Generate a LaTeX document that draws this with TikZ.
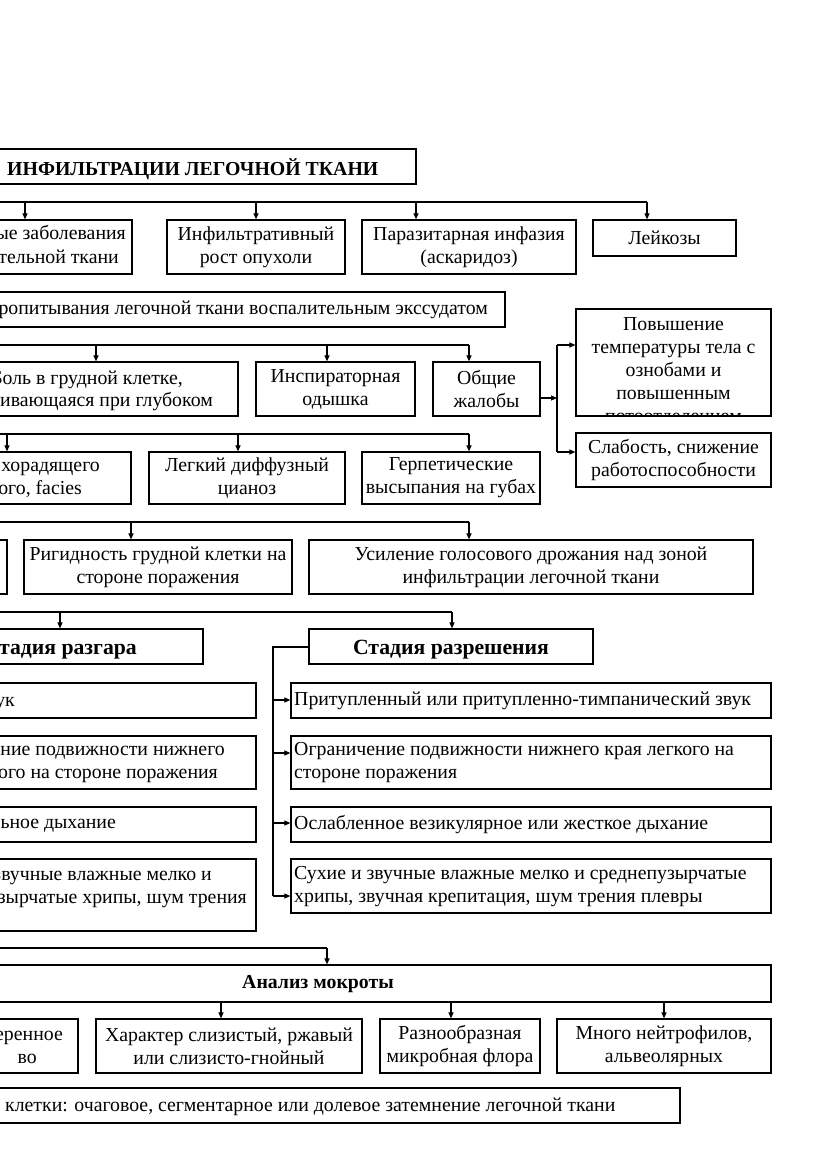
\documentclass[tikz,border=0pt]{standalone}
\usepackage{fontspec}
\setmainfont{Liberation Serif}
\usetikzlibrary{arrows.meta}
\newcommand\fs{\fontsize{19.8}{23}\selectfont}
\newcommand\fsb{\fontsize{21.7}{25}\selectfont\bfseries}
\newcommand\bx[6]{%
  \pgfmathsetmacro\bxw{#4-(#2)}%
  \pgfmathsetmacro\bxh{#5-(#3)}%
  \pgfmathsetmacro\bxx{(#2+#4)/2}%
  \pgfmathsetmacro\bxy{(#3+#5)/2}%
  \node[box, minimum width=\bxw pt, minimum height=\bxh pt] (#1) at (\bxx,\bxy) {#6};}
\begin{document}
\begin{tikzpicture}[x=1pt,y=-1pt,
  box/.style={draw, line width=1.2pt, inner sep=0pt, align=center, font=\fs},
  arr/.style={-{Triangle[length=6pt,width=5pt]}, line width=1.1pt},
  ln/.style={line width=1.1pt},
  txt/.style={inner sep=0pt, font=\fs},
  btxt/.style={inner sep=0pt, font=\fs\bfseries},
  ]
\useasboundingbox (0,0) rectangle (831,1174);
\fill[white] (0,0) rectangle (831,1174);
\clip (0,0) rectangle (831,1174);

% ---------- title ----------
\bx{title}{-60}{149}{416}{184}{}
\node[btxt, anchor=base west] (titletxt) at (7,176) {ИНФИЛЬТРАЦИИ ЛЕГОЧНОЙ ТКАНИ};

% ---------- row 1 ----------
\bx{r1a}{-60}{220}{132}{274}{}
\node[txt, anchor=base east] (r1at1) at (126,240) {ые заболевания};
\node[txt, anchor=base east] (r1at2) at (119,263) {тельной ткани};
\bx{r1b}{167}{220}{345}{274}{Инфильтративный\\рост опухоли}
\bx{r1c}{362}{220}{576}{274}{Паразитарная инфазия\\(аскаридоз)}
\bx{r1d}{593}{220}{736}{256}{Лейкозы}
\coordinate (b1l) at (-5,202);
\coordinate (b1a) at (25,202);
\coordinate (b1b) at (256,202);
\coordinate (b1c) at (416,202);
\coordinate (b1d) at (647,202);
\draw[ln] (b1l) -- (b1d);
\draw[arr] (b1a) -- (b1a |- r1a.north);
\draw[arr] (b1b) -- (b1b |- r1b.north);
\draw[arr] (b1c) -- (b1c |- r1c.north);
\draw[arr] (b1d) -- (b1d |- r1d.north);

% ---------- row 2 ----------
\bx{r2}{-60}{292}{505}{327}{}
\node[txt, anchor=base east] (r2t) at (488,314) {ропитывания легочной ткани воспалительным экссудатом};

% ---------- row 3 ----------
\bx{r3a}{-60}{362}{238}{416}{}
\node[txt, anchor=base east] (r3at1) at (183,384) {Боль в грудной клетке,};
\node[txt, anchor=base east] (r3at2) at (213,406) {ивающаяся при глубоком};
\bx{r3b}{256}{362}{415}{416}{Инспираторная\\одышка}
\bx{r3c}{433}{362}{540}{416}{Общие\\жалобы}
\bx{r3d}{576}{309}{771}{416}{}
\begin{scope}
  \clip (576,309) rectangle (771,416);
  \node[txt, anchor=base, align=center] (r3dt) at (673.5,422) {Повышение\\температуры тела с\\ознобами и\\повышенным\\потоотделением};
\end{scope}
\bx{r3e}{576}{433}{771}{487}{Слабость, снижение\\работоспособности}
\coordinate (b2l) at (-5,345);
\coordinate (b2a) at (96,345);
\coordinate (b2b) at (327,345);
\coordinate (b2c) at (469,345);
\draw[ln] (b2l) -- (b2c);
\draw[arr] (b2a) -- (b2a |- r3a.north);
\draw[arr] (b2b) -- (b2b |- r3b.north);
\draw[arr] (b2c) -- (b2c |- r3c.north);
\coordinate (vj) at (557,398);
\coordinate (vt) at (557,345);
\coordinate (vb) at (557,452);
\draw[arr] (r3c.east |- vj) -- (vj);
\draw[ln] (vt) -- (vb);
\draw[arr] (vt) -- (vt -| r3d.west);
\draw[arr] (vb) -- (vb -| r3e.west);

% ---------- row 4 ----------
\bx{r4a}{-60}{452}{131}{504}{}
\node[txt, anchor=base east] (r4at1) at (100,471) {хорадящего};
\node[txt, anchor=base east] (r4at2) at (82,494) {ого, facies};
\bx{r4b}{149}{452}{345}{504}{Легкий диффузный\\цианоз}
\bx{r4c}{362}{452}{540}{504}{Герпетические\\высыпания на губах}
\coordinate (b3l) at (-5,434);
\coordinate (b3a) at (7,434);
\coordinate (b3b) at (238,434);
\coordinate (b3c) at (469,434);
\draw[ln] (b3l) -- (b3c);
\draw[arr] (b3a) -- (b3a |- r4a.north);
\draw[arr] (b3b) -- (b3b |- r4b.north);
\draw[arr] (b3c) -- (b3c |- r4c.north);

% ---------- row 5 ----------
\bx{r5a}{-60}{540}{7}{594}{}
\bx{r5b}{24}{540}{292}{594}{Ригидность грудной клетки на\\стороне поражения}
\bx{r5c}{309}{540}{753}{594}{Усиление голосового дрожания над зоной\\инфильтрации легочной ткани}
\coordinate (b4l) at (-5,522);
\coordinate (b4a) at (131,522);
\coordinate (b4b) at (469,522);
\draw[ln] (b4l) -- (b4b);
\draw[arr] (b4a) -- (b4a |- r5b.north);
\draw[arr] (b4b) -- (b4b |- r5c.north);

% ---------- stages ----------
\bx{s1}{-60}{629}{203}{664}{}
\node[inner sep=0pt, font=\fsb, anchor=base east] (s1t) at (137,654) {Стадия разгара};
\bx{s2}{309}{629}{593}{664}{}
\node[inner sep=0pt, font=\fsb, anchor=base] (s2t) at (451,654) {Стадия разрешения};
\coordinate (b5l) at (-5,612);
\coordinate (b5a) at (60,612);
\coordinate (b5b) at (452,612);
\draw[ln] (b5l) -- (b5b);
\draw[arr] (b5a) -- (b5a |- s1.north);
\draw[arr] (b5b) -- (b5b |- s2.north);

% left column
\bx{l1}{-60}{683}{256}{718}{}
\node[txt, anchor=base east] (l1t) at (15,706) {ук};
\bx{l2}{-60}{736}{256}{789}{}
\node[txt, anchor=base east] (l2t1) at (225,755) {ение подвижности нижнего};
\node[txt, anchor=base east] (l2t2) at (218,778) {ого на стороне поражения};
\bx{l3}{-60}{807}{256}{842}{}
\node[txt, anchor=base east] (l3t) at (116,828) {ьное дыхание};
\bx{l4}{-60}{859}{256}{931}{}
\node[txt, anchor=base east] (l4t1) at (212,880) {звучные влажные мелко и};
\node[txt, anchor=base east] (l4t2) at (247,903) {зырчатые хрипы, шум трения};

% right column
\bx{p1}{291}{683}{771}{718}{}
\node[txt, anchor=west, align=left] (p1t) at (294,701) {Притупленный или притупленно-тимпанический звук};
\bx{p2}{291}{736}{771}{789}{}
\node[txt, anchor=west, align=left] (p2t) at (294,763) {Ограничение подвижности нижнего края легкого на\\стороне поражения};
\bx{p3}{291}{807}{771}{842}{}
\node[txt, anchor=west, align=left] (p3t) at (294,825) {Ослабленное везикулярное или жесткое дыхание};
\bx{p4}{291}{859}{771}{913}{}
\node[txt, anchor=west, align=left] (p4t) at (294,887) {Сухие и звучные влажные мелко и среднепузырчатые\\хрипы, звучная крепитация, шум трения плевры};
\coordinate (vr0) at (273,647);
\coordinate (vr1) at (273,700);
\coordinate (vr2) at (273,753);
\coordinate (vr3) at (273,823);
\coordinate (vr4) at (273,896);
\draw[ln] (s2.west |- vr0) -- (vr0) -- (vr4);
\draw[arr] (vr1) -- (vr1 -| p1.west);
\draw[arr] (vr2) -- (vr2 -| p2.west);
\draw[arr] (vr3) -- (vr3 -| p3.west);
\draw[arr] (vr4) -- (vr4 -| p4.west);

% ---------- sputum ----------
\bx{an}{-60}{965}{771}{1002}{}
\node[btxt] (ant) at (318,984) {Анализ мокроты};
\coordinate (b6l) at (-5,948);
\coordinate (b6a) at (327,948);
\draw[ln] (b6l) -- (b6a);
\draw[arr] (b6a) -- (b6a |- an.north);

\bx{m1}{-60}{1019}{78}{1073}{}
\node[txt, anchor=base east] (m1t1) at (63,1040) {еренное};
\node[txt, anchor=base east] (m1t2) at (37,1063) {во};
\bx{m2}{96}{1019}{362}{1073}{Характер слизистый, ржавый\\или слизисто-гнойный}
\bx{m3}{380}{1019}{540}{1073}{Разнообразная\\микробная флора}
\bx{m4}{557}{1019}{771}{1073}{}
\begin{scope}
  \clip (557,1019) rectangle (771,1073);
  \node[txt, anchor=base, align=center] (m4t) at (664,1062) {Много нейтрофилов,\\альвеолярных};
\end{scope}
\coordinate (a1) at (221,1002);
\coordinate (a2) at (451,1002);
\coordinate (a3) at (664,1002);
\draw[arr] (a1) -- (a1 |- m2.north);
\draw[arr] (a2) -- (a2 |- m3.north);
\draw[arr] (a3) -- (a3 |- m4.north);

\bx{xr}{-60}{1088}{680}{1123}{}
\node[txt, anchor=base west] (xrt) at (5,1111) {клетки: очаговое, сегментарное или долевое затемнение легочной ткани};
\end{tikzpicture}
\end{document}
